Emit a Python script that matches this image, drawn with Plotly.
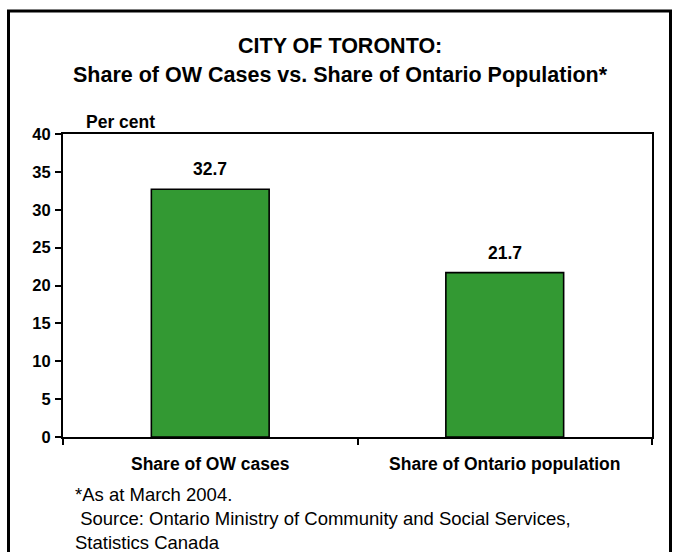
import plotly.graph_objects as go

# Toronto share of Ontario Works cases vs. share of provincial population
categories = ["Share of OW cases", "Share of Ontario population"]
values = [32.7, 21.7]
value_labels = ["32.7", "21.7"]
y_ticks = [0, 5, 10, 15, 20, 25, 30, 35, 40]

W, H = 677, 552
L, R, T, B = 63, 25, 134, 115
PW, PH = W - L - R, H - T - B


def px_x(px):
    return (px - L) / PW


def px_y(py):
    return (H - B - py) / PH


FONT = "Liberation Sans, Arial, sans-serif"

fig = go.Figure(
    go.Bar(
        x=categories,
        y=values,
        width=0.4,
        marker=dict(color="#339933", line=dict(color="#000000", width=1.6)),
        hoverinfo="skip",
    )
)

annotations = []
for cat, val, lab in zip(categories, values, value_labels):
    annotations.append(
        dict(
            x=cat, y=val, xref="x", yref="y", text=lab, showarrow=False,
            yanchor="middle", yshift=20,
            font=dict(family=FONT, size=17.5, color="#000", weight="bold"),
        )
    )

title_lines = ["CITY OF TORONTO:", "Share of OW Cases vs. Share of Ontario Population*"]
for text, py in zip(title_lines, [46, 75]):
    annotations.append(
        dict(
            x=px_x(340), y=px_y(py), xref="paper", yref="paper", text=text,
            showarrow=False, xanchor="center", yanchor="middle",
            font=dict(family=FONT, size=21.5, color="#000", weight="bold"),
        )
    )

annotations.append(
    dict(
        x=px_x(120.5), y=px_y(122), xref="paper", yref="paper", text="Per cent",
        showarrow=False, xanchor="center", yanchor="middle",
        font=dict(family=FONT, size=17.5, color="#000", weight="bold"),
    )
)

notes = ["*As at March 2004.",
         "&nbsp;Source: Ontario Ministry of Community and Social Services,",
         "Statistics Canada"]
for text, py in zip(notes, [494, 518, 542]):
    annotations.append(
        dict(
            x=px_x(73), y=px_y(py), xref="paper", yref="paper", text=text,
            showarrow=False, xanchor="left", yanchor="middle",
            font=dict(family=FONT, size=18.5, color="#000"),
        )
    )

fig.update_layout(
    width=W, height=H,
    margin=dict(l=L, r=R, t=T, b=B, pad=0),
    paper_bgcolor="#ffffff", plot_bgcolor="#ffffff",
    showlegend=False,
    bargap=0.6,
    annotations=annotations,
    shapes=[
        dict(
            type="rect", xref="paper", yref="paper",
            x0=px_x(8.5), x1=px_x(670.5), y0=px_y(565), y1=px_y(11),
            line=dict(color="#000", width=3), fillcolor="rgba(0,0,0,0)",
        )
    ],
)

fig.update_xaxes(
    type="category",
    showline=True, linecolor="#000", linewidth=2, mirror=True,
    ticks="outside", tickson="boundaries", ticklen=6, tickwidth=2, tickcolor="#000",
    ticklabelstandoff=10,
    tickfont=dict(family=FONT, size=17.5, color="#000", weight="bold"),
    showgrid=False, zeroline=False, fixedrange=True,
)
fig.update_yaxes(
    range=[0, 40],
    tickvals=y_ticks,
    ticktext=[str(v) for v in y_ticks],
    showline=True, linecolor="#000", linewidth=2, mirror=True,
    ticks="outside", ticklen=6, tickwidth=2, tickcolor="#000",
    ticklabelstandoff=1,
    tickfont=dict(family=FONT, size=16.5, color="#000", weight="bold"),
    showgrid=False, zeroline=False, fixedrange=True,
)

fig.write_html("out.html", config={"displayModeBar": False})
